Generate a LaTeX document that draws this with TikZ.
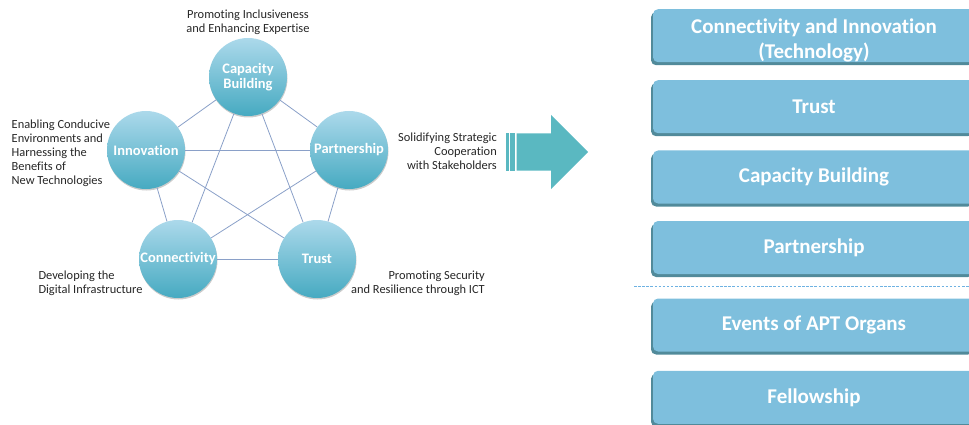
\documentclass[tikz,border=0pt]{standalone}
\usepackage{fontspec}
\setmainfont{Carlito}[Ligatures=NoCommon]
\usetikzlibrary{shadows}

\definecolor{circtop}{RGB}{172,217,235}
\definecolor{circbot}{RGB}{70,170,193}
\definecolor{linkblue}{RGB}{138,160,200}
\definecolor{arrowteal}{RGB}{90,184,193}
\definecolor{boxblue}{RGB}{126,191,221}
\definecolor{boxshade}{RGB}{62,125,143}
\definecolor{dashblue}{RGB}{110,178,226}
\definecolor{notegray}{RGB}{38,38,38}

\tikzstyle{circnode}=[circle, minimum size=78, inner sep=0, top color=circtop, bottom color=circbot, text=white, align=center, font=\bfseries\fontsize{14.5}{15}\selectfont, drop shadow={shadow xshift=0.5pt, shadow yshift=-1.5pt, fill=black, opacity=.2}]
\tikzstyle{linkline}=[linkblue, line width=0.8]
\tikzstyle{note}=[inner sep=0, text=notegray, font=\fontsize{12.4}{14}\selectfont]
\tikzstyle{boxnode}=[rounded corners=5, fill=boxblue, minimum width=322, minimum height=53, inner sep=0, text=white, align=center, font=\bfseries\fontsize{21}{25}\selectfont, drop shadow={shadow xshift=-2pt, shadow yshift=-3pt, fill=boxshade, opacity=.9}]

\begin{document}
\begin{tikzpicture}[x=1pt, y=-1pt]
      \useasboundingbox (0,0) rectangle (969,425);
      \node[circnode] (P1) at (248,77) {Capacity\\Building};
      \node[circnode] (P2) at (146,150) {Innovation};
      \node[circnode] (P3) at (349,150) {Partnership};
      \node[circnode] (P4) at (178,259) {Connectivity};
      \node[circnode] (P5) at (317,259) {Trust};
      \draw[linkline] (P1) -- (P2);
      \draw[linkline] (P1) -- (P3);
      \draw[linkline] (P2) -- (P4);
      \draw[linkline] (P3) -- (P5);
      \draw[linkline] (P4) -- (P5);
      \draw[linkline] (P1) -- (P4);
      \draw[linkline] (P1) -- (P5);
      \draw[linkline] (P2) -- (P3);
      \draw[linkline] (P2) -- (P5);
      \draw[linkline] (P3) -- (P4);

      \node[note, anchor=north, align=center] (T1) at (248,9.7) {Promoting Inclusiveness\\and Enhancing Expertise};
      \node[note, anchor=north west, align=left] (T2) at (11.5,120) {Enabling Conducive\\Environments and\\Harnessing the\\Benefits of\\New Technologies};
      \node[note, anchor=north east, align=right] (T3) at (497,132.4) {Solidifying Strategic\\Cooperation\\with Stakeholders};
      \node[note, anchor=north west, align=left] (T4) at (38.3,270.7) {Developing the\\Digital Infrastructure};
      \node[note, anchor=north east, align=right] (T5) at (485,270.7) {Promoting Security\\and Resilience through ICT};

      % arrow
      \fill[arrowteal] (505.7,133.3) rectangle (509,170.7);
      \fill[arrowteal] (510.3,133.3) rectangle (515,170.7);
      \fill[arrowteal] (516.7,133.3) -- (551,133.3) -- (551,115) -- (588,152) -- (551,189) -- (551,170.7) -- (516.7,170.7) -- cycle;

      \node[boxnode] (B1) at (814,35.7) {\rule{0pt}{24pt}Connectivity and Innovation\\(Technology)};
      \node[boxnode] (B2) at (814,106.7) {Trust};
      \node[boxnode] (B3) at (814,177) {Capacity Building};
      \node[boxnode] (B4) at (814,247.5) {Partnership};
      \draw[dashblue, dash pattern=on 2.5pt off 1.6pt, line width=0.6] (634,286.7) -- (969,286.7);
      \node[boxnode] (B5) at (814,325) {Events of APT Organs};
      \node[boxnode] (B6) at (814,397.3) {Fellowship};
    \end{tikzpicture}
\end{document}
